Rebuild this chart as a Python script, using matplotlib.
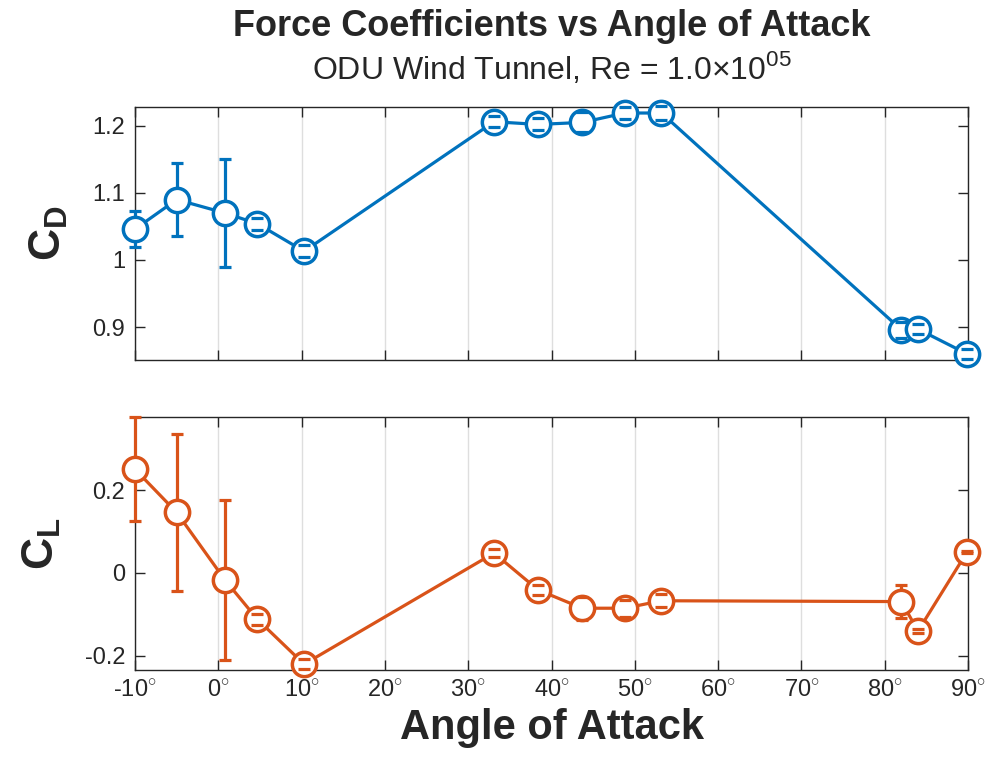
import numpy as np
import matplotlib.pyplot as plt

plt.rcParams['font.family'] = ['Liberation Sans', 'DejaVu Sans']
plt.rcParams['mathtext.fontset'] = 'custom'
plt.rcParams['mathtext.rm'] = 'Liberation Sans'
plt.rcParams['mathtext.bf'] = 'Liberation Sans:bold'

# angle of attack (deg)
aoa = [-10.0, -5.0, 0.8, 4.7, 10.3, 33.1, 38.4, 43.7, 48.8, 53.2, 82.0, 84.0, 89.9]

# drag coefficient and its uncertainty
cd = [1.046, 1.090, 1.070, 1.054, 1.013, 1.206, 1.202, 1.205, 1.219, 1.219, 0.896, 0.897, 0.860]
cd_err = [0.027, 0.055, 0.081, 0.009, 0.009, 0.008, 0.009, 0.015, 0.009, 0.010, 0.012, 0.008, 0.008]

# lift coefficient and its uncertainty
cl = [0.250, 0.146, -0.017, -0.112, -0.220, 0.048, -0.041, -0.085, -0.085, -0.067, -0.069, -0.140, 0.051]
cl_err = [0.125, 0.190, 0.193, 0.013, 0.012, 0.010, 0.012, 0.028, 0.020, 0.016, 0.040, 0.005, 0.003]

xticks = np.arange(-10, 91, 10)
xticklabels = ['%d$^{\\circ}$' % t for t in xticks]

blue = '#0072BD'
orange = '#D95319'
axcol = '#262626'

fig = plt.figure(figsize=(9.92, 7.78), dpi=100)
ax1 = fig.add_axes([0.1361, 0.5373, 0.8397, 0.3252])
ax2 = fig.add_axes([0.1361, 0.1388, 0.8397, 0.3252])


def draw(ax, y, yerr, color):
    ax.plot(aoa, y, '-o', color=color, lw=2.3, ms=17.5, mew=2.5,
            mfc='white', zorder=3, clip_on=False)
    _, caps, bars = ax.errorbar(aoa, y, yerr=yerr, fmt='none', ecolor=color,
                                elinewidth=2.3, capsize=4.5, capthick=2.3, zorder=2.6)
    for c in caps:
        c.set_zorder(4)
        c.set_clip_on(False)
    for b in bars:
        b.set_clip_on(False)
    ax.set_xlim(-10, 90)
    ax.set_xticks(xticks)
    ax.grid(axis='x', color='#dedede', lw=1)
    ax.set_axisbelow(True)
    ax.tick_params(direction='in', length=7, width=1, top=True, right=True,
                   colors=axcol, labelsize=17, pad=7)
    for s in ax.spines.values():
        s.set_color(axcol)
        s.set_linewidth(1)


draw(ax1, cd, cd_err, blue)
ax1.set_ylim(0.851, 1.228)
ax1.set_yticks([0.9, 1.0, 1.1, 1.2])
ax1.set_yticklabels(['0.9', '1', '1.1', '1.2'])
ax1.set_xticklabels([])
ax1.set_ylabel(r'$\mathbf{C_D}$', fontsize=32, color=axcol, labelpad=16)

draw(ax2, cl, cl_err, orange)
ax2.set_ylim(-0.234, 0.376)
ax2.set_yticks([-0.2, 0, 0.2])
ax2.set_yticklabels(['-0.2', '0', '0.2'])
ax2.set_xticklabels(xticklabels)
ax2.set_ylabel(r'$\mathbf{C_L}$', fontsize=32, color=axcol, labelpad=16)
ax2.set_xlabel('Angle of Attack', fontsize=30, fontweight='bold', color=axcol, labelpad=4)

fig.text(0.556, 0.966, 'Force Coefficients vs Angle of Attack', ha='center', va='center',
         fontsize=26, fontweight='bold', color=axcol)
fig.text(0.556, 0.912, r'ODU Wind Tunnel, Re = 1.0$\times$10$^{05}$', ha='center', va='center',
         fontsize=23, color=axcol)

fig.savefig('out.png', dpi=100)
